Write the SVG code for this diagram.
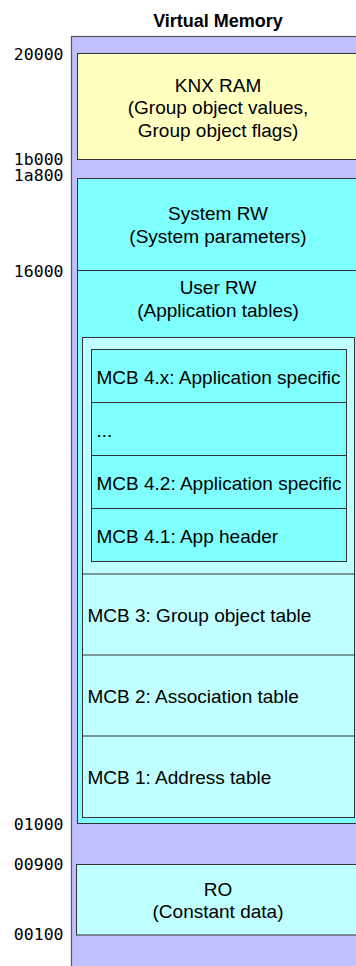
<svg xmlns="http://www.w3.org/2000/svg" width="356" height="966" viewBox="0 0 356 966">
<style>
.lbl{font-family:"Liberation Sans",Arial,sans-serif;font-size:19px;fill:#000}
.c{text-anchor:middle}
.addr{font-family:"DejaVu Sans Mono",monospace;font-size:16.5px;fill:#000;text-anchor:end}
.title{font-family:"Liberation Sans",Arial,sans-serif;font-size:18px;font-weight:bold;fill:#000;text-anchor:middle}
.box{stroke:#333;stroke-width:1}
.line{stroke:#333;stroke-width:1;fill:none}
</style>
<rect width="356" height="966" fill="#fff"/>
<text class="title" x="218" y="27">Virtual Memory</text>
<g id="virtual-memory">
<rect x="71.5" y="36.5" width="300" height="940" fill="#c0c0ff" stroke="#555" stroke-width="1.2"/>
</g>
<g id="knx-ram">
<rect class="box" x="77.5" y="53.5" width="300" height="106" fill="#ffffc0"/>
<text class="lbl c" x="218" y="91.5">KNX RAM</text>
<text class="lbl c" x="218" y="114">(Group object values,</text>
<text class="lbl c" x="218" y="136.5">Group object flags)</text>
</g>
<g id="rw">
<rect class="box" x="77.5" y="178.5" width="300" height="645" fill="#80ffff"/>
</g>
<g id="system-rw">
<line class="line" x1="77.5" y1="270.5" x2="356" y2="270.5"/>
<text class="lbl c" x="218" y="220">System RW</text>
<text class="lbl c" x="218" y="242.5">(System parameters)</text>
</g>
<g id="user-rw">
<text class="lbl c" x="218" y="293.5">User RW</text>
<text class="lbl c" x="218" y="316.5">(Application tables)</text>
</g>
<g id="app-tables">
<rect class="box" x="82.5" y="337.5" width="272" height="480" fill="#c0ffff"/>
</g>
<g id="mcb4">
<rect class="box" x="91.5" y="349.5" width="255" height="212" fill="#80ffff"/>
<line class="line" x1="91.5" y1="402.5" x2="346.5" y2="402.5"/>
<line class="line" x1="91.5" y1="455.5" x2="346.5" y2="455.5"/>
<line class="line" x1="91.5" y1="508.5" x2="346.5" y2="508.5"/>
</g>
<g id="mcb4x"><text class="lbl" x="96.5" y="384">MCB 4.x: Application specific</text></g>
<g id="mcb4dots"><text class="lbl" x="96.5" y="437">...</text></g>
<g id="mcb42"><text class="lbl" x="96.5" y="490">MCB 4.2: Application specific</text></g>
<g id="mcb41"><text class="lbl" x="96.5" y="542.5">MCB 4.1: App header</text></g>
<g id="mcb3">
<line class="line" x1="82.5" y1="574" x2="354.5" y2="574"/>
<text class="lbl" x="87.5" y="621.5">MCB 3: Group object table</text>
</g>
<g id="mcb2">
<line class="line" x1="82.5" y1="655" x2="354.5" y2="655"/>
<text class="lbl" x="87.5" y="702.5">MCB 2: Association table</text>
</g>
<g id="mcb1">
<line class="line" x1="82.5" y1="736" x2="354.5" y2="736"/>
<text class="lbl" x="87.5" y="783.5">MCB 1: Address table</text>
</g>
<g id="ro">
<rect class="box" x="76.5" y="864.5" width="300" height="70.5" fill="#c0ffff"/>
<text class="lbl c" x="218" y="895.5">RO</text>
<text class="lbl c" x="218" y="918">(Constant data)</text>
</g>
<g id="addresses">
<text class="addr" x="63.5" y="60">20000</text>
<text class="addr" x="63.5" y="165">1b000</text>
<text class="addr" x="63.5" y="181">1a800</text>
<text class="addr" x="63.5" y="276.5">16000</text>
<text class="addr" x="63.5" y="830">01000</text>
<text class="addr" x="63.5" y="869.5">00900</text>
<text class="addr" x="63.5" y="940">00100</text>
</g>
</svg>
